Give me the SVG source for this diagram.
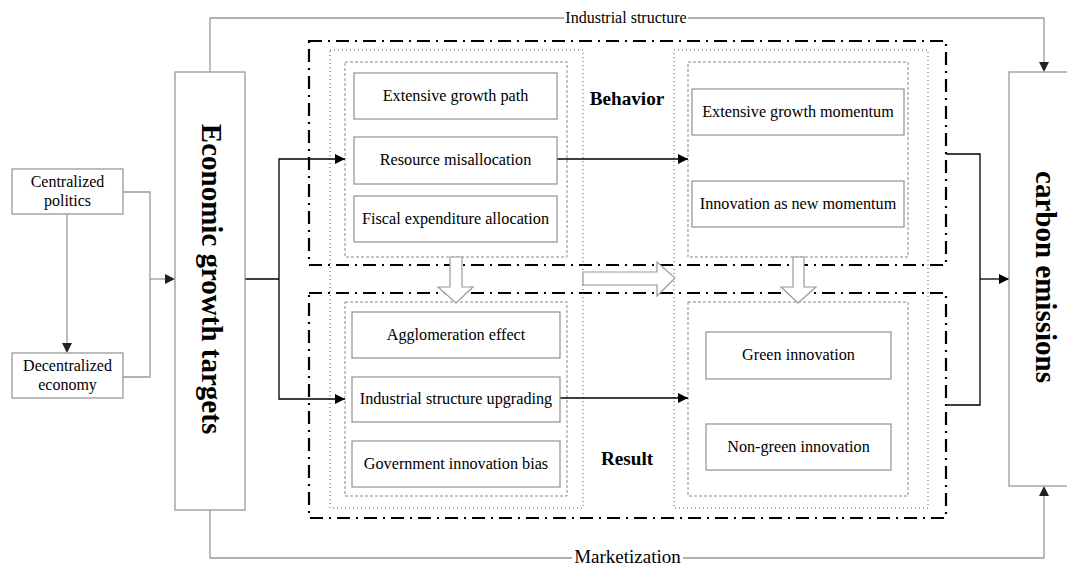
<svg xmlns="http://www.w3.org/2000/svg" width="1067" height="566" viewBox="0 0 1067 566" font-family="'Liberation Serif', 'Times New Roman', serif">
<defs>
<style>
text{font-family:"Liberation Serif","Times New Roman",serif;fill:#000}
.t{font-size:16.2px;text-anchor:middle}
.s{font-size:16px;text-anchor:middle}
.big{font-size:29px;font-weight:bold;text-anchor:middle}
.lab{font-size:19.2px;font-weight:bold;text-anchor:middle}
.box{fill:#fff;stroke:#999;stroke-width:1.3}
.dd{fill:none;stroke:#000;stroke-width:2.2;stroke-dasharray:13 6 2 6}
.dot{fill:none;stroke:#555;stroke-width:1;stroke-dasharray:1 3}
.dsh{fill:none;stroke:#888;stroke-width:1;stroke-dasharray:3 2}
.g{fill:none;stroke:#999;stroke-width:1.3}
.k{fill:none;stroke:#000;stroke-width:1.3}
.hol{fill:#fff;stroke:#999;stroke-width:1.2}
</style>
<marker id="ak" viewBox="0 0 10 10" refX="10" refY="5" markerWidth="10" markerHeight="10" markerUnits="userSpaceOnUse" orient="auto"><path d="M0,0 L10,5 L0,10 z" fill="#000"/></marker>
</defs>

<g id="frames">
<rect class="dd" x="309" y="41" width="637" height="224"/>
<rect class="dd" x="309" y="293" width="637" height="225"/>
<rect class="dot" x="330" y="50" width="253" height="458"/>
<rect class="dot" x="674" y="50" width="254" height="458"/>
<rect class="dsh" x="345" y="62" width="222" height="195"/>
<rect class="dsh" x="688" y="62" width="220" height="195"/>
<rect class="dsh" x="345" y="302" width="222" height="194"/>
<rect class="dsh" x="688" y="302" width="220" height="194"/>
</g>

<g id="block-arrows">
<path class="hol" d="M450,257 L462,257 L462,287 L473,287 L456,303 L438,287 L450,287 Z"/>
<path class="hol" d="M793,257 L804,257 L804,287 L816,287 L798,303 L781,287 L793,287 Z"/>
<path class="hol" d="M583,272 L657,272 L657,262 L675,278 L657,296 L657,285 L583,285 Z"/>
</g>

<g id="connectors">
<polyline class="g" points="210,72 210,18 1044,18 1044,64"/>
<path d="M1039,62 L1044,72 L1049,62 z" fill="#222"/>
<polyline class="g" points="210,510 210,558 1044,558 1044,494"/>
<path d="M1039,496 L1044,486 L1049,496 z" fill="#222"/>
<line class="g" x1="67" y1="214" x2="67" y2="345"/>
<path d="M62,343 L67,353 L72,343 z" fill="#222"/>
<polyline class="g" points="123,192 150,192 150,377 123,377"/>
<line class="g" x1="150" y1="279" x2="167" y2="279"/>
<path d="M165,274 L175,279 L165,284 z" fill="#222"/>
<line class="k" x1="245" y1="279" x2="279" y2="279"/>
<polyline class="k" points="279,279 279,159 345,159" marker-end="url(#ak)"/>
<polyline class="k" points="279,279 279,399 345,399" marker-end="url(#ak)"/>
<line class="k" x1="557" y1="159" x2="688" y2="159" marker-end="url(#ak)"/>
<line class="k" x1="560" y1="398" x2="688" y2="398" marker-end="url(#ak)"/>
<polyline class="k" points="946,154 980,154 980,405 946,405"/>
<line class="k" x1="980" y1="279" x2="1009" y2="279" marker-end="url(#ak)"/>
</g>

<g id="label-industrial"><rect x="564" y="9" width="124" height="18" fill="#fff"/><text class="s" x="626" y="23">Industrial structure</text></g>
<g id="label-market"><rect x="572" y="549" width="111" height="17" fill="#fff"/><text x="627.5" y="563" font-size="19" text-anchor="middle">Marketization</text></g>

<g id="centralized"><rect class="box" x="12" y="169" width="111" height="45"/><text class="s" x="67.5" y="187">Centralized</text><text class="s" x="67.5" y="206">politics</text></g>
<g id="decentralized"><rect class="box" x="12" y="353" width="111" height="45"/><text class="s" x="67.5" y="371">Decentralized</text><text class="s" x="67.5" y="390">economy</text></g>

<g id="econ"><rect class="box" x="175" y="72" width="70" height="438"/><text class="big" transform="translate(202,279) rotate(90)">Economic growth targets</text></g>
<g id="carbon"><rect class="box" x="1009" y="72" width="62" height="414"/><text class="big" transform="translate(1036,277) rotate(90)">carbon emissions</text></g>

<g id="behavior-label"><text class="lab" x="627" y="105">Behavior</text></g>
<g id="result-label"><text class="lab" x="627" y="465">Result</text></g>

<g id="n1"><rect class="box" x="354" y="73" width="203" height="46"/><text class="t" x="455.5" y="101">Extensive growth path</text></g>
<g id="n2"><rect class="box" x="354" y="137" width="203" height="47"/><text class="t" x="455.5" y="165">Resource misallocation</text></g>
<g id="n3"><rect class="box" x="354" y="196" width="203" height="46"/><text class="t" x="455.5" y="224">Fiscal expenditure allocation</text></g>

<g id="n4"><rect class="box" x="692" y="89" width="212" height="46"/><text class="t" x="798" y="117">Extensive growth momentum</text></g>
<g id="n5"><rect class="box" x="692" y="181" width="212" height="46"/><text class="t" x="798" y="209">Innovation as new momentum</text></g>

<g id="n6"><rect class="box" x="352" y="312" width="208" height="46"/><text class="t" x="456" y="340">Agglomeration effect</text></g>
<g id="n7"><rect class="box" x="352" y="377" width="208" height="45"/><text class="t" x="456" y="404">Industrial structure upgrading</text></g>
<g id="n8"><rect class="box" x="352" y="441" width="208" height="46"/><text class="t" x="456" y="469">Government innovation bias</text></g>

<g id="n9"><rect class="box" x="706" y="332" width="185" height="47"/><text class="t" x="798.5" y="360">Green innovation</text></g>
<g id="n10"><rect class="box" x="706" y="424" width="185" height="46"/><text class="t" x="798.5" y="452">Non-green innovation</text></g>
</svg>
